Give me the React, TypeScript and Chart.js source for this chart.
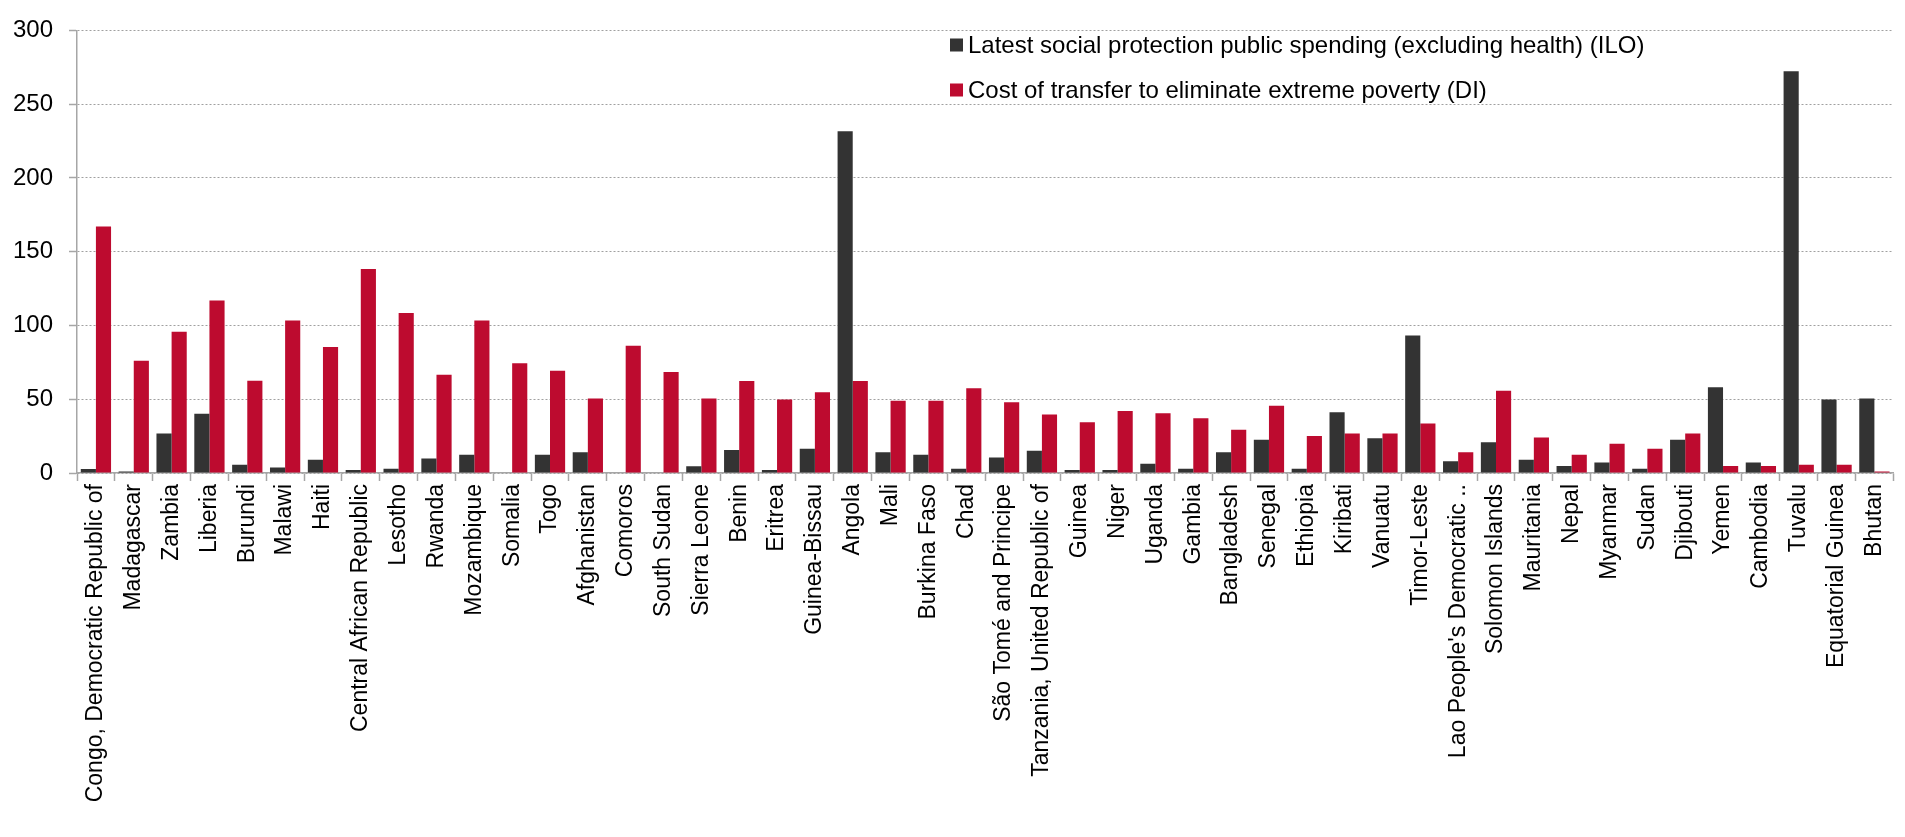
import React, { useEffect, useRef } from "react";
import { Chart, registerables } from "chart.js";

Chart.register(...registerables);

const countries: string[] = [
  "Congo, Democratic Republic of", "Madagascar", "Zambia", "Liberia", "Burundi", "Malawi", "Haiti",
  "Central African Republic", "Lesotho", "Rwanda", "Mozambique", "Somalia", "Togo", "Afghanistan",
  "Comoros", "South Sudan", "Sierra Leone", "Benin", "Eritrea", "Guinea-Bissau", "Angola", "Mali",
  "Burkina Faso", "Chad", "São Tomé and Principe", "Tanzania, United Republic of", "Guinea", "Niger",
  "Uganda", "Gambia", "Bangladesh", "Senegal", "Ethiopia", "Kiribati", "Vanuatu", "Timor-Leste",
  "Lao People's Democratic ..", "Solomon Islands", "Mauritania", "Nepal", "Myanmar", "Sudan",
  "Djibouti", "Yemen", "Cambodia", "Tuvalu", "Equatorial Guinea", "Bhutan",
];

const iloSpending: number[] = [
  2.7, 1, 26.8, 40.2, 5.6, 3.8, 8.9, 2, 2.9, 9.8, 12.3, 0, 12.3, 14.1,
  0, 0, 4.5, 15.6, 2, 16.5, 231.6, 14.1, 12.3, 2.9, 10.5, 15, 2, 2,
  6.3, 2.9, 14.1, 22.6, 2.9, 41.1, 23.5, 93.2, 8, 20.8, 8.9, 4.7, 7.2, 2.9,
  22.6, 58.1, 7.2, 272.3, 49.9, 50.5,
];

const transferCost: number[] = [
  167, 76, 95.7, 116.9, 62.6, 103.3, 85.4, 138.2, 108.4, 66.6, 103.3, 74.4, 69.3, 50.5,
  86.3, 68.4, 50.5, 62.4, 49.9, 54.8, 62.4, 49, 49, 57.5, 48, 39.6, 34.4, 42,
  40.5, 37.1, 29.3, 45.6, 25, 26.8, 26.8, 33.5, 14.1, 55.7, 24.1, 12.3, 19.9, 16.5,
  26.8, 4.7, 4.7, 5.6, 5.6, 1,
];

const seriesLabels: string[] = [
  "Latest social protection public spending (excluding health) (ILO)",
  "Cost of transfer to eliminate extreme poverty (DI)",
];

const yTicks: number[] = [0, 50, 100, 150, 200, 250, 300];

const FONT = "'Liberation Sans', Arial, Helvetica, sans-serif";

const legendPlugin = {
  id: "insideLegend",
  afterDatasetsDraw(chart: any) {
    const ctx = chart.ctx;
    ctx.save();
    ctx.font = `24px ${FONT}`;
    ctx.textBaseline = "middle";
    ctx.textAlign = "left";
    const x0 = 950;
    const ys = [45, 90];
    chart.data.datasets.forEach((ds: any, i: number) => {
      const y = ys[i];
      ctx.fillStyle = ds.backgroundColor;
      ctx.fillRect(x0, y - 6.5, 13, 13);
      ctx.fillStyle = "#000000";
      ctx.fillText(ds.label, x0 + 18, y + 1);
    });
    ctx.restore();
  },
};

export default function App() {
  const canvasRef = useRef<HTMLCanvasElement | null>(null);

  useEffect(() => {
    document.body.style.margin = "0";
    document.body.style.overflow = "hidden";
    const canvas = canvasRef.current;
    if (!canvas) return;
    const chart = new Chart(canvas, {
      type: "bar",
      data: {
        labels: countries,
        datasets: [
          {
            label: seriesLabels[0],
            data: iloSpending,
            backgroundColor: "#333333",
            barPercentage: 1.0,
            categoryPercentage: 0.8,
          },
          {
            label: seriesLabels[1],
            data: transferCost,
            backgroundColor: "#bd0b2f",
            barPercentage: 1.0,
            categoryPercentage: 0.8,
          },
        ],
      },
      options: {
        animation: false,
        responsive: false,
        maintainAspectRatio: false,
        layout: { padding: { top: 25, right: 0, bottom: 0, left: 0 } },
        plugins: {
          legend: { display: false },
          tooltip: { enabled: false },
        },
        scales: {
          x: {
            grid: {
              offset: true,
              drawOnChartArea: false,
              drawTicks: true,
              tickLength: 8,
              tickColor: "#a6a6a6",
              tickWidth: 1.5,
            },
            border: { display: true, color: "#a6a6a6", width: 1.5 },
            ticks: {
              autoSkip: false,
              maxRotation: 90,
              minRotation: 90,
              padding: 3,
              color: "#000000",
              font: { family: FONT, size: 23 },
            },
            afterFit(scale: any) {
              scale.height = 837 - 473;
            },
          },
          y: {
            min: 0,
            max: 300,
            afterBuildTicks(scale: any) {
              scale.ticks = yTicks.map((v) => ({ value: v }));
            },
            grid: {
              color: "#a0a0a0",
              lineWidth: 1,
              drawTicks: true,
              tickLength: 8,
              tickColor: "#a6a6a6",
              tickWidth: 1.5,
              tickBorderDash: [],
            },
            border: { display: true, color: "#a6a6a6", width: 1.5, dash: [2, 2] },
            ticks: {
              padding: 16,
              color: "#000000",
              font: { family: FONT, size: 24 },
            },
            afterFit(scale: any) {
              scale.width = 77;
            },
          },
        },
      },
      plugins: [legendPlugin],
    });
    return () => chart.destroy();
  }, []);

  return (
    <div style={{ width: 1905, height: 837 }}>
      <canvas ref={canvasRef} width={1905} height={837} style={{ display: "block" }} />
    </div>
  );
}
